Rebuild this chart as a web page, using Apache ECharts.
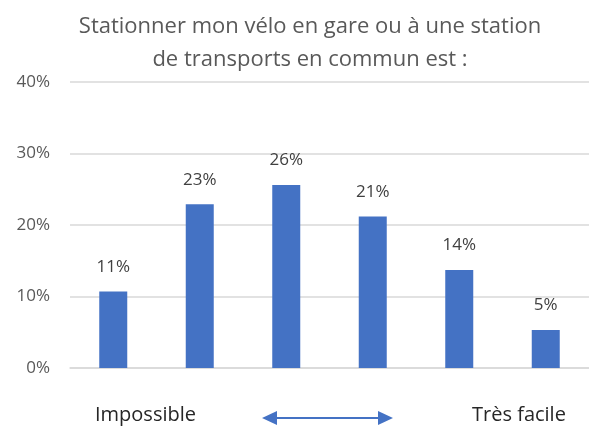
<!DOCTYPE html>
<html>
<head>
<meta charset="utf-8">
<style>
  html, body { margin: 0; padding: 0; background: #ffffff; }
  #chart { width: 589px; height: 428px; }
</style>
<script src="https://cdn.jsdelivr.net/npm/echarts@6/dist/echarts.min.js"></script>
</head>
<body>
<div id="chart"></div>
<script>
// answers, left (impossible) to right (very easy)
const categories = ['1', '2', '3', '4', '5', '6'];
const shares = [0.107, 0.229, 0.256, 0.212, 0.137, 0.053];
const titleLines = ['Stationner mon vélo en gare ou à une station', 'de transports en commun est :'];
const scaleEnds = ['Impossible', 'Très facile'];

const FONT = '"Open Sans", "Noto Sans", sans-serif';
const BLUE = '#4472c4';

const chart = echarts.init(document.getElementById('chart'), null, { renderer: 'canvas' });

chart.setOption({
  animation: false,
  backgroundColor: '#ffffff',
  title: {
    text: titleLines.join('\n'),
    left: 305,
    textAlign: 'center',
    top: 5,
    textStyle: { fontFamily: FONT, fontSize: 22, fontWeight: 'normal', color: '#595959', lineHeight: 33 }
  },
  grid: { left: 70, right: -2, top: 82, bottom: 60 },
  xAxis: {
    type: 'category',
    data: categories,
    axisLine: { lineStyle: { color: '#d9d9d9', width: 1.5 } },
    axisTick: { show: false },
    axisLabel: { show: false }
  },
  yAxis: {
    type: 'value',
    min: 0,
    max: 0.4,
    interval: 0.1,
    axisLine: { show: false },
    axisTick: { show: false },
    splitLine: { lineStyle: { color: '#d9d9d9', width: 1.5 } },
    axisLabel: {
      margin: 20,
      fontFamily: FONT,
      fontSize: 17,
      color: '#595959',
      formatter: v => Math.round(v * 100) + '%'
    }
  },
  series: [{
    type: 'bar',
    data: shares,
    barWidth: 28,
    itemStyle: { color: BLUE },
    label: {
      show: true,
      position: 'top',
      distance: 16,
      fontFamily: FONT,
      fontSize: 17,
      color: '#404040',
      formatter: p => Math.round(p.value * 100) + '%'
    }
  }],
  graphic: [
    {
      type: 'text', left: 95, top: 405,
      style: { text: scaleEnds[0], fontFamily: FONT, fontSize: 20, fill: '#262626' }
    },
    {
      type: 'text', left: 472, top: 405,
      style: { text: scaleEnds[1], fontFamily: FONT, fontSize: 20, fill: '#262626' }
    },
    {
      type: 'line',
      shape: { x1: 272, y1: 418, x2: 383, y2: 418 },
      style: { stroke: BLUE, lineWidth: 2.2 }
    },
    {
      type: 'polygon',
      shape: { points: [[262, 418], [277, 411], [277, 425]] },
      style: { fill: BLUE }
    },
    {
      type: 'polygon',
      shape: { points: [[393, 418], [378, 411], [378, 425]] },
      style: { fill: BLUE }
    }
  ]
});
</script>
</body>
</html>
